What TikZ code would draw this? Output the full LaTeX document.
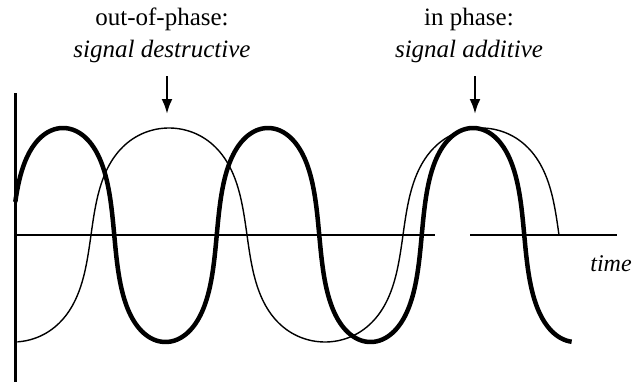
\documentclass[tikz,border=0pt]{standalone}
\usepackage{fontspec}
\setmainfont{Liberation Serif}
\usetikzlibrary{arrows.meta}

\begin{document}
\begin{tikzpicture}[x=1pt, y=-1pt, font=\fontsize{25}{32}\selectfont,
  lbl/.style={align=center, inner sep=0pt},
  axisline/.style={line width=2pt},
  strongwave/.style={line width=4.5pt, line join=round},
  weakwave/.style={line width=1.4pt},
  pointer/.style={-{Latex[length=15pt, width=11pt]}, line width=2.5pt}]
\useasboundingbox (0,0) rectangle (632,388);

% axes
\coordinate (ytop) at (15,93);
\coordinate (ybot) at (15,382);
\coordinate (orig) at (15,235);
\coordinate (gapl) at (435,235);
\coordinate (gapr) at (470,235);
\coordinate (xend) at (617,235);
\draw[line width=3pt] (ytop) -- (ybot);
\draw[axisline] (orig) -- (gapl);
\draw[axisline] (gapr) -- (xend);
\node[lbl, font=\fontsize{24}{32}\selectfont\itshape] (timelbl) at (611,264) {time};

% waves
\draw[weakwave] plot[domain=-177:450, samples=300, variable=\t]
  ({169+312/360*(\t+20*sin(2*\t))}, {235-107*cos(\t)});
\draw[strongwave] plot[domain=-72:896, samples=400, variable=\t]
  ({63+205/360*(\t+20*sin(2*\t))}, {235-107*cos(\t)});

% labels
\node[lbl] (outlbl) at (162,35) {out-of-phase:\\ \textit{signal destructive}};
\coordinate (outtail) at (167,76);
\coordinate (outhead) at (167,114);
\draw[pointer] (outtail) -- (outhead);

\node[lbl] (inlbl) at (469,35) {in phase:\\ \textit{signal additive}};
\coordinate (intail) at (475,76);
\coordinate (inhead) at (475,114);
\draw[pointer] (intail) -- (inhead);
\end{tikzpicture}
\end{document}
